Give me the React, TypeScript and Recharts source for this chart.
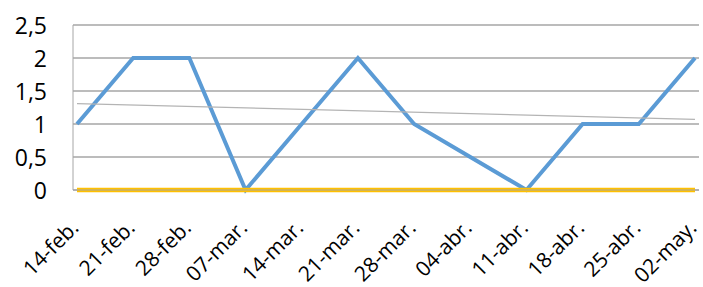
import React from 'react'
import { LineChart, Line, XAxis, YAxis, CartesianGrid } from 'recharts'

const fechas = ['14-feb.', '21-feb.', '28-feb.', '07-mar.', '14-mar.', '21-mar.', '28-mar.', '04-abr.', '11-abr.', '18-abr.', '25-abr.', '02-may.']
const serieAzul = [1, 2, 2, 0, 1, 2, 1, 0.5, 0, 1, 1, 2]
const serieNaranja = [0, 0, 0, 0, 0, 0, 0, 0, 0, 0, 0, 0]
const tendencia = [1.31, null, null, null, null, null, null, null, null, null, null, 1.07]
const yTicks = [0, 0.5, 1, 1.5, 2, 2.5]

const data = fechas.map((f, i) => ({
    fecha: f,
    azul: serieAzul[i],
    naranja: serieNaranja[i],
    tend: tendencia[i],
}))

const FONT = '"Open Sans", sans-serif'

const YTick = (props: any) => {
    const { y, payload } = props
    return (
        <text x={47} y={y} dy={9} textAnchor="end" fontSize={23} fontFamily={FONT} fill="#000">
            {String(payload.value).replace('.', ',')}
        </text>
    )
}

const XTick = (props: any) => {
    const { x, payload } = props
    const ax = x + 3
    const ay = 229
    return (
        <text x={ax} y={ay} textAnchor="end" fontSize={21} fontFamily={FONT} fill="#000"
            transform={`rotate(-45, ${ax}, ${ay})`}>
            {payload.value}
        </text>
    )
}

const App: React.FC = () => {
    return (
        <div style={{ position: 'absolute', left: 0, top: 0 }}>
            <LineChart
                width={703}
                height={287}
                data={data}
                margin={{ top: 25, right: 4, left: 0, bottom: 0 }}
            >
                <CartesianGrid vertical={false} stroke="#a6a6a6" strokeWidth={1.3} />
                <XAxis
                    dataKey="fecha"
                    interval={0}
                    height={97}
                    padding={{ left: 4, right: 4 }}
                    axisLine={{ stroke: '#a6a6a6' }}
                    tickLine={false}
                    tick={<XTick />}
                />
                <YAxis
                    width={73}
                    domain={[0, 2.5]}
                    ticks={yTicks}
                    axisLine={{ stroke: '#a6a6a6' }}
                    tickLine={false}
                    tick={<YTick />}
                />
                <Line
                    type="linear"
                    dataKey="azul"
                    stroke="#5b9bd5"
                    strokeWidth={4}
                    dot={false}
                    isAnimationActive={false}
                />
                <Line
                    type="linear"
                    dataKey="naranja"
                    stroke="#ffc000"
                    strokeWidth={4.5}
                    dot={false}
                    isAnimationActive={false}
                />
                <Line
                    type="linear"
                    dataKey="tend"
                    stroke="#b4b4b4"
                    strokeWidth={1.3}
                    dot={false}
                    connectNulls
                    isAnimationActive={false}
                />
            </LineChart>
        </div>
    )
}

export default App
